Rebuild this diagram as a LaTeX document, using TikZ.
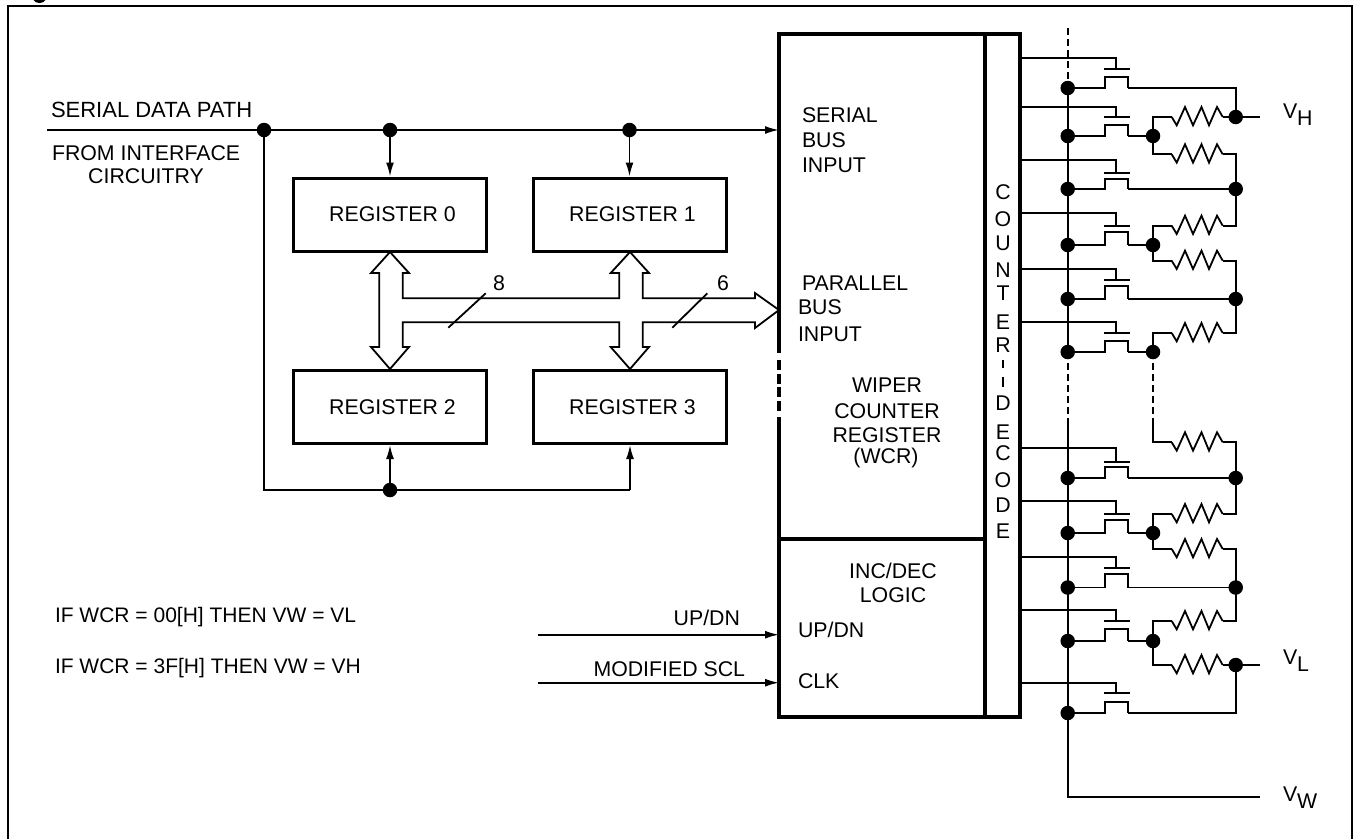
\documentclass[tikz,border=0pt]{standalone}
\usepackage{fontspec}
\setmainfont{Liberation Sans}
\usetikzlibrary{arrows.meta,calc}
\tikzset{
  wire/.style={line width=1.8pt,line join=miter},
  thick box/.style={line width=3.4pt,line join=miter},
  dot/.style={circle,fill=black,draw=none,inner sep=0pt,minimum size=14.5pt},
  regbox/.style={draw=black,line width=3pt,rectangle,minimum width=193pt,minimum height=73pt,inner sep=0pt},
  lbl/.style={inner sep=0pt,outer sep=0pt,anchor=base west},
  clbl/.style={inner sep=0pt,outer sep=0pt,anchor=base},
  rlbl/.style={inner sep=0pt,outer sep=0pt,anchor=base east},
  sig/.style={wire,-{Latex[length=14pt,width=8pt]}},
}
\newcommand{\fetrow}[5]{%
  \node[dot] (w#1) at (1067.7,#5) {};
  \coordinate (ge#1) at (1020,#2);
  \coordinate (gc#1) at (1116,#2);
  \coordinate (gb#1) at (1116,#3);
  \coordinate (bl#1) at (1104,#3);
  \coordinate (br#1) at (1129.5,#3);
  \coordinate (cl#1) at (1105,#5);
  \coordinate (tl#1) at (1105,#4);
  \coordinate (tr#1) at (1128,#4);
  \coordinate (cr#1) at (1128,#5);
  \draw[wire] (ge#1) -- (gc#1) -- (gb#1);
  \draw[wire] (bl#1) -- (br#1);
  \draw[wire] (w#1.center) -- (cl#1) -- (tl#1) -- (tr#1) -- (cr#1);
}
\newcommand{\resist}[2]{%
  \coordinate (#1a) at (1171.7,#2);
  \coordinate (#1b) at (1222.7,#2);
  \draw[wire] (#1a) -- ++(5,8.3) -- ++(8.3,-18.3) -- ++(8,18.3) -- ++(8.5,-18.3) -- ++(7.5,18.3) -- ++(8,-18.3) -- (#1b);
}
\newcommand{\vsub}[1]{V\raisebox{-7pt}{#1}}
\begin{document}
\begin{tikzpicture}[x=1pt,y=-1pt,font=\fontsize{21.3}{25}\selectfont]
\useasboundingbox (0,0) rectangle (1356,839);
% frame and remnant of the cropped caption
\draw[line width=1.8pt] (8,839) -- (8,6) -- (1352,6) -- (1352,839);
\fill[black] (33.5,0) .. controls (35,4) and (44,4) .. (45.5,0) -- cycle;

% serial path
\coordinate (sIn) at (47,130);
\coordinate (wcrS) at (779,130);
\node[dot] (d0) at (264,130) {};
\node[dot] (d1) at (390,130) {};
\node[dot] (d2) at (629.5,130) {};
\node[dot] (d3) at (390,490) {};
\coordinate (c3) at (630,490);
\node[regbox] (r0) at (389.5,214.5) {\hspace*{6pt}REGISTER 0};
\node[regbox] (r1) at (629.5,214.5) {\hspace*{6pt}REGISTER 1};
\node[regbox] (r2) at (389.5,407) {\hspace*{6pt}REGISTER 2};
\node[regbox] (r3) at (629.5,407) {\hspace*{6pt}REGISTER 3};
\draw[sig] (sIn) -- (wcrS);
\draw[wire] (d0.center) -- (d0.center |- d3) -- (c3);
\draw[sig] (d1.center) -- (d1.center |- r0.north);
\draw[sig] (d2.center) -- (d2.center |- r1.north);
\draw[sig] (d3.center) -- (d3.center |- r2.south);
\draw[sig] (c3) -- (c3 |- r3.south);

% parallel bus outline
\draw[wire] (390,252) -- (409,273) -- (402.7,273) -- (402.7,298.3) -- (619.3,298.3) -- (619.3,273)
  -- (610.7,273) -- (630,252) -- (649,273) -- (642.7,273) -- (642.7,298.3) -- (755,298.3) -- (755,293)
  -- (779,310) -- (755,328) -- (755,322.3) -- (642.7,322.3) -- (642.7,347) -- (649,347) -- (630,369)
  -- (610.7,347) -- (619.3,347) -- (619.3,322.3) -- (402.7,322.3) -- (402.7,347) -- (409,347) -- (390,369)
  -- (371,347) -- (379.3,347) -- (379.3,273) -- (371,273) -- cycle;
\draw[wire] (448.3,327.7) -- (485.7,293.3);
\draw[wire] (672.3,327.7) -- (707.3,293.3);
\node[clbl] (n8) at (499,290) {8};
\node[clbl] (n6) at (723,290) {6};

% WCR block
\draw[thick box] (779,353) -- (779,34) -- (1020,34) -- (1020,717) -- (779,717) -- (779,417);
\draw[thick box] (985,34) -- (985,717);
\draw[thick box] (779,539) -- (985,539);
\draw[thick box,dash pattern=on 10pt off 3.5pt] (779,360) -- (779,411);

% block labels
\node[lbl,font=\fontsize{22}{26}\selectfont] (tSP) at (51,117.5) {SERIAL DATA PATH};
\node[lbl] (tFI) at (52,160) {FROM INTERFACE};
\node[clbl] (tCI) at (146,183) {CIRCUITRY};
\node[lbl] (tS1) at (802,122) {SERIAL};
\node[lbl] (tS2) at (802,147) {BUS};
\node[lbl] (tS3) at (802,172) {INPUT};
\node[lbl] (tP1) at (802,290) {PARALLEL};
\node[lbl] (tP2) at (798,314) {BUS};
\node[lbl] (tP3) at (798,341) {INPUT};
\node[clbl] (tW1) at (887,392) {WIPER};
\node[clbl] (tW2) at (887,418) {COUNTER};
\node[clbl] (tW3) at (887,442) {REGISTER};
\node[clbl] (tW4) at (886,463) {(WCR)};
\node[clbl] (tI1) at (893,578) {INC/DEC};
\node[clbl] (tI2) at (893,602) {LOGIC};
\node[lbl] (tU) at (798,637) {UP/DN};
\node[lbl] (tC) at (798,688) {CLK};

% control inputs
\coordinate (uS) at (538,634.7);
\coordinate (uE) at (779,634.7);
\coordinate (mS) at (538,682.7);
\coordinate (mE) at (779,682.7);
\draw[sig] (uS) -- (uE);
\draw[sig] (mS) -- (mE);
\node[rlbl] (tUD) at (740,625) {UP/DN};
\node[rlbl] (tMS) at (745,676) {MODIFIED SCL};
\node[lbl,font=\fontsize{21}{25}\selectfont] (tEq1) at (55,622) {IF WCR = 00[H] THEN VW = VL};
\node[lbl,font=\fontsize{21}{25}\selectfont] (tEq2) at (55,673) {IF WCR = 3F[H] THEN VW = VH};

% vertical text
\foreach \yy/\ll [count=\i] in {199.5/C,226.5/O,250.5/U,277.5/N,300.5/T,329.5/E,352.5/R,410.5/D,439.5/E,460.5/C,487.5/O,512.5/D,538.5/E}
  \node[clbl,name=cd\i] at (1003,\yy) {\ll};
\draw[wire] (1003,360) -- (1003,368);
\draw[wire] (1003,377) -- (1003,387);

% transistors
\fetrow{1}{58.3}{69}{77.3}{88}
\fetrow{2}{106.7}{116.7}{125}{136}
\fetrow{3}{160}{173}{179}{189}
\fetrow{4}{212.7}{225.7}{232}{245}
\fetrow{5}{269.3}{280}{285.7}{299}
\fetrow{6}{322.3}{333}{341}{352}
\fetrow{7}{447.7}{461.7}{466.7}{478}
\fetrow{8}{500.7}{514}{520}{533}
\fetrow{9}{557.3}{568}{574}{587.5}
\fetrow{10}{610}{621}{629}{641}
\fetrow{11}{682.7}{693}{701.7}{713}

% wiper bus
\coordinate (bTop) at (1067.7,28);
\coordinate (bGap) at (1067.7,423);
\coordinate (bBot) at (1067.7,797);
\coordinate (vwE) at (1260,797);
\draw[wire,dash pattern=on 7pt off 4pt] (bTop) -- (w1.center);
\draw[wire] (w1.center) -- (w6.center);
\draw[wire,dash pattern=on 7pt off 4pt] (w6.center) -- (bGap);
\draw[wire] (bGap) -- (bBot) -- (vwE);

% resistor string joints
\node[dot] (h1) at (1235.7,117) {};
\node[dot] (h3) at (1235.7,189) {};
\node[dot] (h5) at (1235.7,299) {};
\node[dot] (h7) at (1235.7,478) {};
\node[dot] (h9) at (1235.7,587.5) {};
\node[dot] (hL) at (1235.7,665) {};
\node[dot] (m2) at (1153,136) {};
\node[dot] (m4) at (1153,245) {};
\node[dot] (m6) at (1153,352) {};
\node[dot] (m8) at (1153,533) {};
\node[dot] (m10) at (1153,641) {};
\coordinate (vhE) at (1260,117);
\coordinate (vlE) at (1260,665);
\coordinate (mGap) at (1153,423);

\resist{r2x}{117}
\resist{r3x}{154.3}
\resist{r4x}{225.7}
\resist{r5x}{260.7}
\resist{r6x}{333}
\resist{r7x}{442.3}
\resist{r8x}{514}
\resist{r9x}{549}
\resist{r10x}{621}
\resist{r11x}{665}

\draw[wire] (cr1) -| (h1.center);
\draw[wire] (h1.center) -- (vhE);
\draw[wire] (cr2) -- (m2.center);
\draw[wire] (m2.center) |- (r2xa);
\draw[wire] (r2xb) -- (h1.center);
\draw[wire] (m2.center) |- (r3xa);
\draw[wire] (r3xb) -| (h3.center);
\draw[wire] (cr3) -- (h3.center);
\draw[wire] (r4xb) -| (h3.center);
\draw[wire] (cr4) -- (m4.center);
\draw[wire] (m4.center) |- (r4xa);
\draw[wire] (m4.center) |- (r5xa);
\draw[wire] (r5xb) -| (h5.center);
\draw[wire] (cr5) -- (h5.center);
\draw[wire] (r6xb) -| (h5.center);
\draw[wire] (cr6) -- (m6.center);
\draw[wire] (m6.center) |- (r6xa);
\draw[wire,dash pattern=on 7pt off 4pt] (m6.center) -- (mGap);
\draw[wire] (mGap) |- (r7xa);
\draw[wire] (r7xb) -| (h7.center);
\draw[wire] (cr7) -- (h7.center);
\draw[wire] (r8xb) -| (h7.center);
\draw[wire] (cr8) -- (m8.center);
\draw[wire] (m8.center) |- (r8xa);
\draw[wire] (m8.center) |- (r9xa);
\draw[wire] (r9xb) -| (h9.center);
\draw[wire] (cr9) -- (h9.center);
\draw[wire] (r10xb) -| (h9.center);
\draw[wire] (cr10) -- (m10.center);
\draw[wire] (m10.center) |- (r10xa);
\draw[wire] (m10.center) |- (r11xa);
\draw[wire] (r11xb) -- (hL.center);
\draw[wire] (hL.center) -- (vlE);
\draw[wire] (cr11) -| (hL.center);

% terminal labels
\node[lbl] (tVH) at (1283,118) {\vsub{H}};
\node[lbl] (tVL) at (1283,664) {\vsub{L}};
\node[lbl] (tVW) at (1283,801) {\vsub{W}};
\end{tikzpicture}
\end{document}
